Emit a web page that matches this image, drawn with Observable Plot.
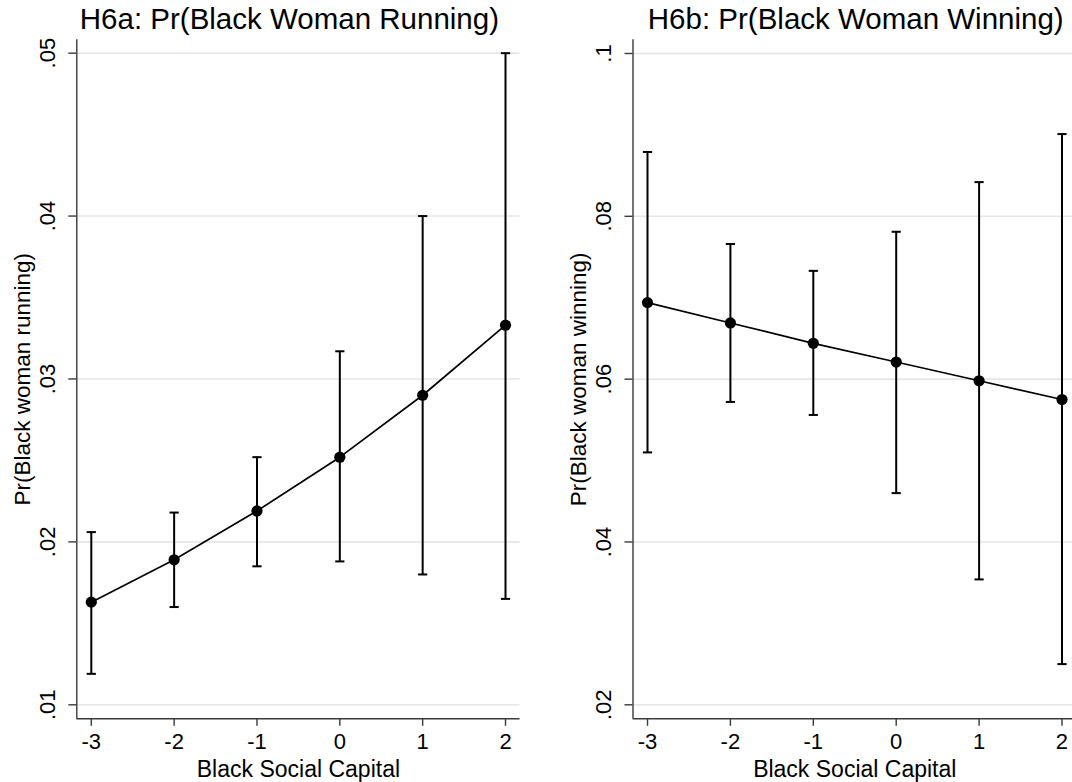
<!DOCTYPE html>
<html><head><meta charset="utf-8">
<script src="https://cdn.jsdelivr.net/npm/d3@7"></script>
<script src="https://cdn.jsdelivr.net/npm/@observablehq/plot@0.6"></script>
<style>
html,body{margin:0;padding:0;background:#fff;overflow:hidden;width:1072px;height:782px;}
#left,#right{position:absolute;top:0;}
#left{left:0;width:536px;} #right{left:536px;width:544px;}
svg{max-width:none !important;}
</style></head><body>
<div id="left"></div><div id="right"></div>
<script>
// Black Social Capital values
const xValues = [-3, -2, -1, 0, 1, 2];
const xTicks = [-3, -2, -1, 0, 1, 2];

// H6a: Pr(Black woman running)
const runEst = [0.0163, 0.0189, 0.0219, 0.0252, 0.0290, 0.0333];
const runLo  = [0.0119, 0.0160, 0.0185, 0.0188, 0.0180, 0.0165];
const runHi  = [0.0206, 0.0218, 0.0252, 0.0317, 0.0400, 0.0500];
const runTicks = [0.01, 0.02, 0.03, 0.04, 0.05];

// H6b: Pr(Black woman winning)
const winEst = [0.0694, 0.0669, 0.0644, 0.0621, 0.0598, 0.0575];
const winLo  = [0.0510, 0.0572, 0.0556, 0.0460, 0.0354, 0.0250];
const winHi  = [0.0879, 0.0766, 0.0733, 0.0781, 0.0842, 0.0901];
const winTicks = [0.02, 0.04, 0.06, 0.08, 0.1];

const font = "'Liberation Sans', Arial, Helvetica, sans-serif";
const fmtY = d => String(d).replace(/^0\./, ".");
const capSymbol = {draw(ctx, size) { const r = Math.sqrt(size / Math.PI); ctx.moveTo(-r, 0); ctx.lineTo(r, 0); }};
const axisColor = "#3a3a3a";

function panel({title, yLabel, est, lo, hi, yTicks, yDomain, width, marginLeft, marginRight, titleDx}) {
  const data = xValues.map((x, i) => ({x, est: est[i], lo: lo[i], hi: hi[i]}));
  const xDomain = [-3.175, 2.175];
  return Plot.plot({
    width, height: 782,
    marginTop: 39.3, marginBottom: 63.7, marginLeft, marginRight,
    style: {fontFamily: font, fontSize: "22px", color: "black", background: "white", overflow: "visible", maxWidth: "none"},
    x: {domain: xDomain},
    y: {domain: yDomain},
    marks: [
      Plot.ruleY(yTicks, {stroke: "#e6e6e6", strokeWidth: 1.6}),
      Plot.ruleX([xDomain[0]], {stroke: axisColor, strokeWidth: 1.4}),
      Plot.ruleY([yDomain[0]], {stroke: axisColor, strokeWidth: 1.4}),
      Plot.axisX({ticks: xTicks, tickSize: 7.5, tickPadding: 7, tickFormat: d => String(d), label: null, stroke: axisColor, strokeWidth: 1.4, fontSize: 22}),
      Plot.axisY({ticks: yTicks, tickSize: 8, tickFormat: () => "", label: null, stroke: axisColor, strokeWidth: 1.4}),
      Plot.text(yTicks, {y: d => d, text: fmtY, frameAnchor: "left", dx: -29, rotate: -90, textAnchor: "middle", lineAnchor: "middle", fontSize: 22}),
      Plot.ruleX(data, {x: "x", y1: "lo", y2: "hi", stroke: "black", strokeWidth: 2}),
      Plot.dot(data, {x: "x", y: "lo", symbol: capSymbol, r: 4.6, stroke: "black", strokeWidth: 2, fill: "none"}),
      Plot.dot(data, {x: "x", y: "hi", symbol: capSymbol, r: 4.6, stroke: "black", strokeWidth: 2, fill: "none"}),
      Plot.line(data, {x: "x", y: "est", stroke: "black", strokeWidth: 1.7}),
      Plot.dot(data, {x: "x", y: "est", r: 5.6, fill: "black"}),
      Plot.text([title], {text: d => d, frameAnchor: "top", dy: -11, dx: titleDx, lineAnchor: "bottom", fontSize: 29.5}),
      Plot.text(["Black Social Capital"], {text: d => d, frameAnchor: "bottom", dy: 57.7, lineAnchor: "bottom", fontSize: 23}),
      Plot.text([yLabel], {text: d => d, frameAnchor: "left", dx: -54.5, rotate: -90, textAnchor: "middle", lineAnchor: "middle", fontSize: 22.5})
    ]
  });
}

document.getElementById("left").append(panel({
  title: "H6a: Pr(Black Woman Running)", yLabel: "Pr(Black woman running)",
  est: runEst, lo: runLo, hi: runHi, yTicks: runTicks, yDomain: [0.00914, 0.05082],
  width: 536, marginLeft: 76.3, marginRight: 16.5, titleDx: -9
}));
document.getElementById("right").append(panel({
  title: "H6b: Pr(Black Woman Winning)", yLabel: "Pr(Black woman winning)",
  est: winEst, lo: winLo, hi: winHi, yTicks: winTicks, yDomain: [0.01828, 0.10168],
  width: 544, marginLeft: 96.5, marginRight: 4, titleDx: 1
}));
</script></body></html>
